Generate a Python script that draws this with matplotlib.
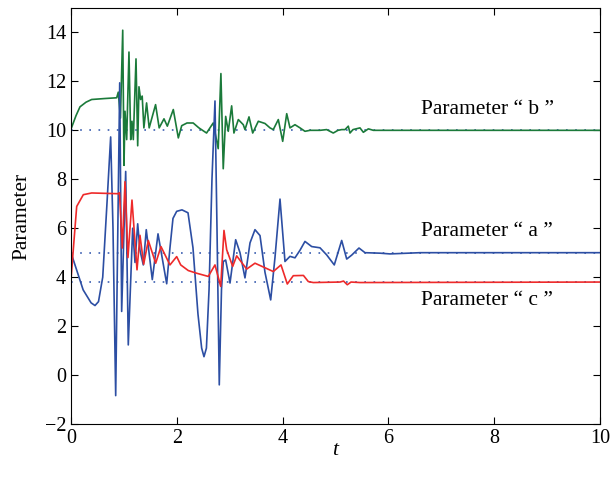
import matplotlib.pyplot as plt

plt.rcParams['font.family'] = ['Liberation Serif', 'DejaVu Serif']

# parameter "a" (blue)
t_a = [0.0, 0.23, 0.38, 0.454, 0.52, 0.6, 0.68, 0.75, 0.794, 0.845, 0.921, 0.958, 1.034, 1.083,
       1.166, 1.21, 1.261, 1.304, 1.367, 1.423, 1.537, 1.645, 1.809, 1.871, 1.928,
       1.998, 2.098, 2.212, 2.306, 2.4, 2.47, 2.514, 2.56, 2.61, 2.665, 2.722, 2.76, 2.803, 2.845,
       2.879, 2.924, 3.006, 3.113, 3.195, 3.289, 3.384, 3.478, 3.573, 3.667, 3.775,
       3.856, 3.951, 4.045, 4.14, 4.234, 4.329, 4.423, 4.55, 4.707, 4.833, 4.977,
       5.047, 5.117, 5.212, 5.306, 5.444, 5.558, 5.841, 6.03, 6.6, 10.0]
a_vals = [5.0, 3.48, 2.95, 2.84, 3.0, 4.0, 7.0, 9.73, 6.0, -0.84, 11.94, 2.6, 8.32, 1.23,
          6.0, 4.6, 6.18, 5.1, 4.5, 5.94, 3.9, 5.77, 3.73, 5.2, 6.4,
          6.69, 6.75, 6.63, 5.2, 2.5, 1.1, 0.75, 1.1, 3.5, 8.0, 11.2, 6.0, -0.4, 3.5,
          4.64, 4.7, 3.76, 5.53, 5.0, 3.97, 5.4, 5.94, 5.7, 4.2, 3.07,
          4.8, 7.19, 4.64, 4.85, 4.79, 5.1, 5.46, 5.25, 5.2, 4.91, 4.5,
          5.0, 5.5, 4.74, 4.9, 5.19, 5.0, 4.98, 4.95, 5.0, 5.0]

# parameter "b" (green)
t_b = [0.0, 0.095, 0.17, 0.284, 0.391, 0.643, 0.864, 0.894, 0.935, 0.978, 1.002,
       1.021, 1.053, 1.096, 1.129, 1.153, 1.178, 1.229, 1.261, 1.285, 1.316, 1.346,
       1.378, 1.429, 1.478, 1.599, 1.667, 1.758, 1.821, 1.934, 2.029, 2.093, 2.193,
       2.31, 2.418, 2.563, 2.688, 2.783, 2.834, 2.878, 2.924, 2.973, 3.037, 3.08,
       3.163, 3.257, 3.289, 3.365, 3.435, 3.541, 3.667, 3.762, 3.824, 3.919, 4.002,
       4.078, 4.14, 4.234, 4.329, 4.423, 4.518, 4.707, 4.833, 4.958, 5.047, 5.117,
       5.18, 5.242, 5.274, 5.331, 5.463, 5.526, 5.621, 5.716, 10.0]
b_vals = [10.05, 10.6, 10.96, 11.15, 11.26, 11.3, 11.33, 11.56, 10.5, 14.09, 8.57,
          10.78, 9.62, 13.2, 9.62, 10.37, 9.62, 12.92, 9.37, 11.78, 11.26, 11.4,
          10.1, 11.12, 10.1, 11.05, 10.1, 10.47, 10.17, 10.85, 9.69, 10.19, 10.3,
          10.3, 10.1, 9.89, 10.3, 9.25, 12.32, 8.43, 10.57, 9.96, 11.0, 9.89,
          10.44, 10.23, 10.03, 10.55, 9.89, 10.37, 10.28, 10.1, 10.03, 10.44, 9.55,
          10.68, 10.1, 10.23, 10.1, 9.96, 10.0, 10.0, 10.03, 9.89, 10.0, 10.03,
          10.03, 10.17, 9.89, 10.03, 10.1, 9.92, 10.06, 10.0, 10.0]

# parameter "c" (red)
t_c = [0.0, 0.057, 0.108, 0.233, 0.391, 0.894, 0.917, 0.97, 1.021, 1.077, 1.153,
       1.248, 1.304, 1.374, 1.461, 1.601, 1.701, 1.871, 1.998, 2.074, 2.217, 2.376,
       2.595, 2.722, 2.83, 2.892, 2.943, 3.057, 3.132, 3.321, 3.478, 3.824, 3.97,
       4.089, 4.202, 4.394, 4.486, 4.58, 5.085, 5.152, 5.223, 5.293, 5.463, 10.0]
c_vals = [3.9, 5.5, 6.89, 7.37, 7.44, 7.41, 7.45, 5.19, 7.9, 4.8, 7.15,
          4.3, 5.71, 4.53, 5.5, 4.57, 5.25, 4.5, 4.84, 4.5, 4.27, 4.16,
          4.03, 4.5, 3.62, 5.91, 5.12, 4.44, 4.87, 4.33, 4.57, 4.23, 4.5,
          3.72, 4.06, 4.07, 3.82, 3.78, 3.8, 3.84, 3.69, 3.8, 3.78, 3.8]

# true parameter values (dotted references)
ref_vals = [10.0, 5.0, 3.8]

labels = ['Parameter \u201c b \u201d', 'Parameter \u201c a \u201d', 'Parameter \u201c c \u201d']
label_y = [10.84, 5.85, 3.05]

fig = plt.figure(figsize=(6.13, 4.86), dpi=100)
ax = fig.add_axes([0.1158, 0.1276, 0.863, 0.856])

for r in ref_vals:
    ax.plot([0, 10], [r, r], color='#3a5db0', lw=1.2, linestyle=(0, (1, 4.5)))

ax.plot(t_b, b_vals, color='#1b7a3a', lw=1.2, solid_joinstyle='round')
ax.plot(t_a, a_vals, color='#2c4ea3', lw=1.2, solid_joinstyle='round')
ax.plot(t_c, c_vals, color='#ee2a2a', lw=1.2, solid_joinstyle='round')

for lab, y in zip(labels, label_y):
    ax.text(6.62, y, lab, fontsize=15.5, va='center', ha='left')

ax.set_xlim(0, 10)
ax.set_ylim(-2, 15)
ax.set_xticks([0, 2, 4, 6, 8, 10])
ax.set_yticks([-2, 0, 2, 4, 6, 8, 10, 12, 14])
ax.set_yticklabels(['\u22122', '0', '2', '4', '6', '8', '10', '12', '14'])
ax.tick_params(direction='in', top=True, right=True, length=5, labelsize=14.5)
ax.set_xlabel('t', fontsize=15.5, style='italic')
ax.set_ylabel('Parameter', fontsize=15.5)
ax.yaxis.set_label_coords(-0.075, 0.5)
ax.xaxis.set_label_coords(0.5, -0.04)

fig.savefig('out.png', dpi=100)
